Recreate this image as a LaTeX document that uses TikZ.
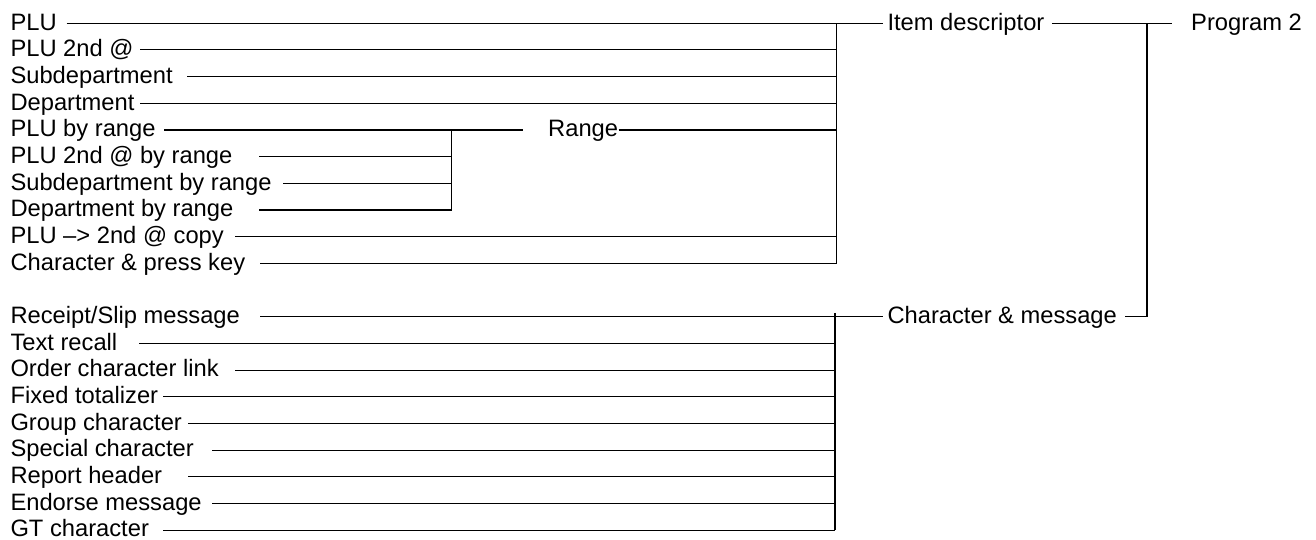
\documentclass[tikz,border=0pt]{standalone}
\usepackage{fontspec}
\setmainfont{Liberation Sans}
\usetikzlibrary{calc,positioning}

\begin{document}
\begin{tikzpicture}[x=0.02cm, y=-0.02cm, line width=0.6pt,
  lbl/.style={anchor=west, inner sep=0pt, text height=7.8pt, text depth=0pt,
    font=\fontsize{13.5}{16}\selectfont},
  bus/.style={line width=0.9pt}]
\useasboundingbox (0,0) rectangle (1316,540);
%\draw[help lines, step=50] (0,0) grid (1316,540);

% junctions
\coordinate (jitem) at (836.7,23.3);
\coordinate (jrange) at (451.7,130);
\coordinate (jchar) at (835,313);
\coordinate (jprog) at (1146.7,23.3);

% item descriptor group
\foreach \n/\t/\s [count=\i from 0] in {plu/PLU/66.7, plusec/PLU 2nd @/140,
    subdept/Subdepartment/187, dept/Department/140, plurng/PLU by range/164,
    secrng/PLU 2nd @ by range/259, subrng/Subdepartment by range/283,
    deptrng/Department by range/259, copy/PLU –> 2nd @ copy/235,
    keypress/Character \& press key/260} {
  \node[lbl] (\n) at (10,23.3+26.67*\i) {\t};
  \coordinate (\n-s) at (\s,23.3+26.67*\i);
}

% character group
\foreach \n/\t/\s [count=\i from 0] in {receipt/{Receipt/Slip message}/260,
    recall/Text recall/139, link/Order character link/235,
    fixed/Fixed totalizer/163, group/Group character/188,
    special/Special character/212, header/Report header/188,
    endorse/Endorse message/212, gt/GT character/163} {
  \node[lbl] (\n) at (10,316.7+26.67*\i) {\t};
  \coordinate (\n-s) at (\s,316.7+26.67*\i);
}

\node[lbl] (range) at (547.7,130) {Range};
\node[lbl] (item) at (887,23.3) {Item descriptor};
\node[lbl] (charmsg) at (887,316.7) {Character \& message};
\node[lbl] (prog) at (1190.7,23.3) {Program 2};
\coordinate (rng-in) at (523,130);
\coordinate (prog-in) at (1171.7,23.3);

% range lines
\foreach \n in {plurng,secrng,subrng,deptrng} \draw (\n-s) -- (jrange |- \n-s);
\draw[bus] (jrange) -- (jrange |- deptrng-s);
\draw (jrange) -- (rng-in);
\draw (range.east) -- (jitem |- range.east);

% item descriptor lines
\draw (plu-s) -- ($(item.west)+(-4,0)$);
\foreach \n in {plusec,subdept,dept,copy,keypress} \draw (\n-s) -- (jitem |- \n-s);
\draw[bus] (jitem) -- (jitem |- keypress-s);

% character lines
\draw (receipt-s) -- ($(charmsg.west)+(-4,0)$);
\foreach \n in {recall,link,fixed,group,special,header,endorse,gt}
  \draw (\n-s) -- (jchar |- \n-s);
\draw[bus] (jchar) -- (jchar |- gt-s);

% program 2
\draw (item.east) ++(7,0) -- (prog-in);
\draw (charmsg.east) ++(8,0) -- (jprog |- charmsg);
\draw[bus] (jprog) -- (jprog |- charmsg);

\end{tikzpicture}
\end{document}
